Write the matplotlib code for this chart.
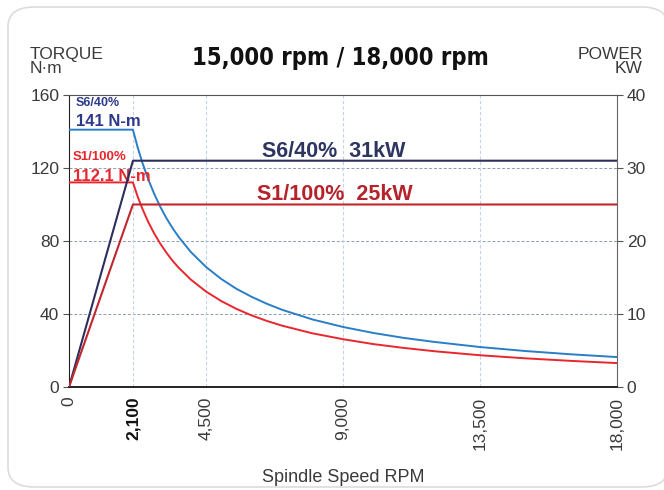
import matplotlib
matplotlib.use("Agg")
import matplotlib.pyplot as plt
from matplotlib.patches import FancyBboxPatch

# Data
rpm = [0, 2100, 2250, 2400, 2600, 2800, 3000, 3200, 3400, 3600, 4000, 4500,
       5000, 5500, 6000, 6500, 7000, 8000, 9000, 10000, 11000, 12000, 13500,
       15000, 16500, 18000]
torque_s6 = [141, 141, 131.6, 123.4, 113.9, 105.8, 98.7, 92.5, 87.1, 82.3,
             74, 65.8, 59.2, 53.8, 49.4, 45.6, 42.3, 37, 32.9, 29.6, 26.9,
             24.7, 21.9, 19.7, 17.9, 16.4]
torque_s1 = [112.1, 112.1, 104.6, 98.1, 90.5, 84.1, 78.5, 73.6, 69.2, 65.4,
             58.9, 52.3, 47.1, 42.8, 39.2, 36.2, 33.6, 29.4, 26.2, 23.5, 21.4,
             19.6, 17.4, 15.7, 14.3, 13.1]
power_rpm = [0, 2100, 18000]
power_s6 = [0, 31, 31]
power_s1 = [0, 25, 25]

x_ticks = [0, 2100, 4500, 9000, 13500, 18000]
x_labels = ["0", "2,100", "4,500", "9,000", "13,500", "18,000"]
torque_ticks = [0, 40, 80, 120, 160]
power_ticks = [0, 10, 20, 30, 40]

c_s6_t = "#2a7dc6"
c_s6_p = "#2c2f5c"
c_s1_t = "#e8262d"
c_s1_p = "#c0272e"
txt = "#3a3a3a"
font = "Liberation Sans"

fig = plt.figure(figsize=(6.64, 4.90), dpi=100)
W, H = 664, 490

# rounded card behind the chart
card = FancyBboxPatch((8 / W, 3 / H), 660 / W, 480 / H,
                      boxstyle="round,pad=0,rounding_size=0.04",
                      transform=fig.transFigure, facecolor="white",
                      edgecolor="#dcdcdc", linewidth=1.2, zorder=-5)
fig.patches.append(card)

ax = fig.add_axes([69 / W, 1 - 387 / H, 548 / W, 292 / H])
ax.set_facecolor("none")
ax2 = ax.twinx()

ax.set_xlim(0, 18000)
ax.set_ylim(0, 160)
ax2.set_ylim(0, 40)

# grid
for y in [40, 80, 120]:
    ax.axhline(y, color="#8c9bb0", lw=0.7, ls=(0, (3, 2)), zorder=1)
for x in [2100, 4500, 9000, 13500]:
    ax.axvline(x, color="#c3d3e8", lw=0.8, ls=(0, (3, 2)), zorder=1)

# torque curves
ax.plot(rpm, torque_s6, color=c_s6_t, lw=1.4, zorder=3)
ax.plot(rpm, torque_s1, color=c_s1_t, lw=1.4, zorder=3)
# power curves
ax2.plot(power_rpm, power_s6, color=c_s6_p, lw=1.5, zorder=3)
ax2.plot(power_rpm, power_s1, color=c_s1_p, lw=1.5, zorder=3)

# spines
ax.spines["top"].set_linestyle((0, (2, 1)))
ax.spines["top"].set_color("#555555")
ax.spines["left"].set_color("#222222")
ax.spines["bottom"].set_color("#111111")
ax.spines["bottom"].set_linewidth(1.3)
ax.spines["right"].set_color("#666666")
for s in ax2.spines.values():
    s.set_visible(False)

ax.set_yticks(torque_ticks)
ax.set_yticklabels([str(t) for t in torque_ticks], fontsize=12.5, color=txt, family=font)
ax2.set_yticks(power_ticks)
ax2.set_yticklabels([str(t) for t in power_ticks], fontsize=12.5, color=txt, family=font)
ax.tick_params(axis="y", length=4, width=0.8, color="#555555", pad=3)
ax2.tick_params(axis="y", length=4, width=0.8, color="#555555", pad=3)

ax.set_xticks(x_ticks)
ax.set_xticklabels(x_labels, rotation=90, fontsize=12.5, color=txt, family=font)
ax.tick_params(axis="x", length=0, pad=7)
ax.get_xticklabels()[1].set_fontweight("bold")
ax.get_xticklabels()[1].set_color("#111111")

ax.set_xlabel("Spindle Speed RPM", fontsize=13, color=txt, family=font, labelpad=14)

# axis titles
fig.text(30 / W, 1 - 47 / H, "TORQUE\nN·m", ha="left", va="top", fontsize=12.5,
         color=txt, family=font, linespacing=0.95)
fig.text(643 / W, 1 - 47 / H, "POWER\nKW", ha="right", va="top", fontsize=12.5,
         color=txt, family=font, linespacing=0.95, multialignment="right")

fig.text(340 / W, 1 - 58 / H, "15,000 rpm / 18,000 rpm", ha="center", va="center",
         fontsize=17, fontweight="bold", color="#111111",
         family="DejaVu Sans", fontstretch="condensed")

# annotations
ax.text(230, 155.6, "S6/40%", fontsize=9, fontweight="bold", color="#2d3a8c",
        family=font, va="center")
ax.text(230, 143, "141 N-m", fontsize=12, fontweight="bold", color="#2d3a8c",
        family=font, va="baseline")
ax.text(131, 126, "S1/100%", fontsize=9.5, fontweight="bold", color=c_s1_t,
        family=font, va="center")
ax.text(131, 113, "112.1 N-m", fontsize=12, fontweight="bold", color=c_s1_t,
        family=font, va="baseline")
ax2.text(8690, 31.5, "S6/40%  31kW", fontsize=15.5, fontweight="bold", color="#2d3560",
         family=font, ha="center", va="baseline")
ax2.text(8720, 25.6, "S1/100%  25kW", fontsize=15.5, fontweight="bold", color="#b5232b",
         family=font, ha="center", va="baseline")

fig.savefig("out.png", dpi=100)
